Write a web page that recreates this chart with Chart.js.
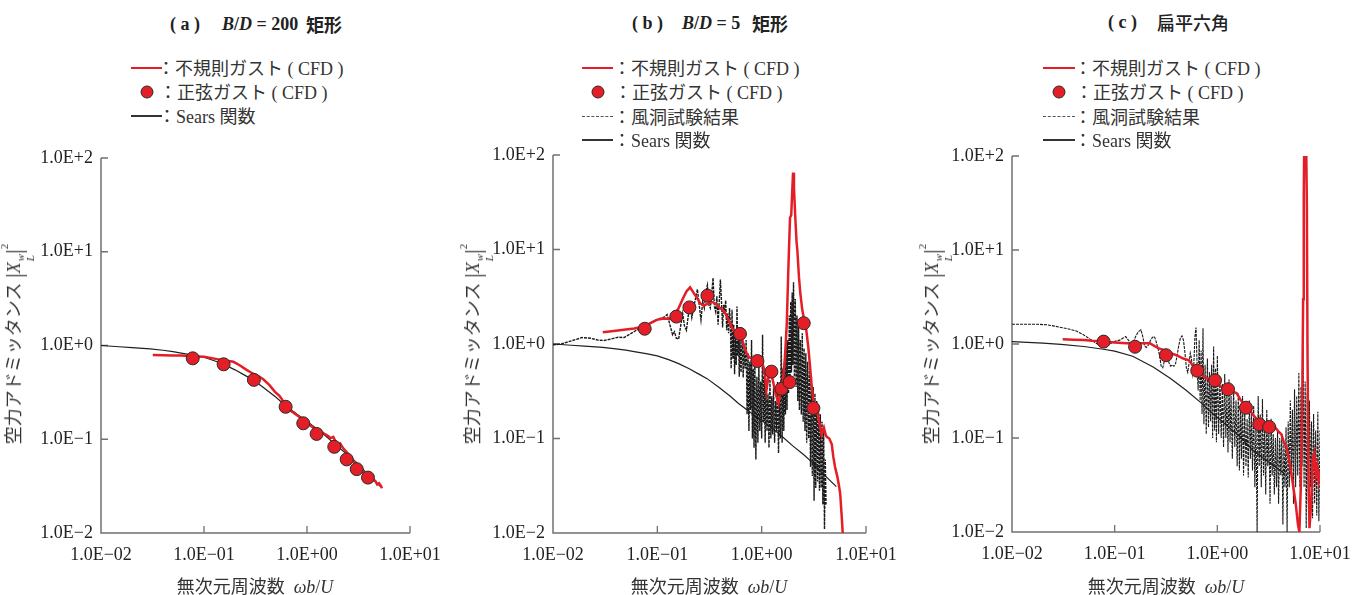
<!DOCTYPE html>
<html><head><meta charset="utf-8">
<script src="https://cdn.jsdelivr.net/npm/chart.js@4.4.1/dist/chart.umd.min.js"></script>
<style>
html,body{margin:0;padding:0;background:#fff;}
#stage{position:relative;width:1360px;height:595px;overflow:hidden;font-family:'Liberation Serif','Times New Roman','Noto Sans CJK JP',serif;color:#333;}
canvas{position:absolute;top:130px;}
.t{position:absolute;white-space:nowrap;transform:translateY(-50%);line-height:1;z-index:2;}
.jp{font-family:'Noto Sans CJK JP',sans-serif;}
.ttl{font-weight:bold;font-size:18px;color:#222;}
.leg{font-size:18px;color:#333;}
.ln{position:absolute;z-index:2;}
.dot{position:absolute;width:11px;height:11px;border-radius:50%;background:#e41e26;border:1px solid #2b2b2b;transform:translate(-50%,-50%);z-index:2;}
.xt{position:absolute;transform:translate(-50%,-50%);font-size:18px;white-space:nowrap;line-height:1;color:#333;z-index:2;}
.yt{position:absolute;transform:translate(-50%,-50%) rotate(-90deg);font-size:18px;white-space:nowrap;line-height:1;color:#333;z-index:2;}
.bar{font-size:24px;font-weight:300;vertical-align:-2px;}
.ss{display:inline-flex;flex-direction:column;font-size:11px;line-height:10px;vertical-align:-4px;margin-left:1px;}
.sup2{font-size:11px;vertical-align:12px;}
</style></head>
<body>
<div id="stage">
  <canvas id="ca" width="450" height="465" style="left:0px"></canvas>
  <canvas id="cb" width="450" height="465" style="left:455px"></canvas>
  <canvas id="cc" width="450" height="465" style="left:910px"></canvas>

  <!-- titles -->
  <span class="t ttl" style="left:170px;top:24px">( a )</span>
  <span class="t ttl" style="left:222px;top:24px"><i>B</i>/<i>D</i> = 200</span>
  <span class="t ttl jp" style="left:306px;top:24px">矩形</span>

  <span class="t ttl" style="left:632px;top:23px">( b )</span>
  <span class="t ttl" style="left:682px;top:23px"><i>B</i>/<i>D</i> = 5</span>
  <span class="t ttl jp" style="left:752px;top:23px">矩形</span>

  <span class="t ttl" style="left:1108px;top:22px">( c )</span>
  <span class="t ttl jp" style="left:1157px;top:22px;font-weight:500">扁平六角</span>

  <!-- legend a -->
  <div class="ln" style="left:131px;top:67px;width:31px;height:2px;background:#e41e26"></div>
  <span class="t leg" style="left:157px;top:68px"><span class="jp">：不規則ガスト</span> ( CFD )</span>
  <div class="dot" style="left:147px;top:92px"></div>
  <span class="t leg" style="left:159px;top:92px"><span class="jp">：正弦ガスト</span> ( CFD )</span>
  <div class="ln" style="left:131px;top:115px;width:31px;height:1.5px;background:#333"></div>
  <span class="t leg" style="left:158px;top:116px"><span class="jp">：</span>Sears <span class="jp">関数</span></span>

  <!-- legend b -->
  <div class="ln" style="left:582px;top:67px;width:31px;height:2px;background:#e41e26"></div>
  <span class="t leg" style="left:613px;top:68px"><span class="jp">：不規則ガスト</span> ( CFD )</span>
  <div class="dot" style="left:598px;top:92px"></div>
  <span class="t leg" style="left:614px;top:92px"><span class="jp">：正弦ガスト</span> ( CFD )</span>
  <div class="ln" style="left:582px;top:116px;width:31px;height:0;border-top:1px dashed #555"></div>
  <span class="t leg" style="left:613px;top:117px"><span class="jp">：風洞試験結果</span></span>
  <div class="ln" style="left:582px;top:139px;width:31px;height:1.5px;background:#333"></div>
  <span class="t leg" style="left:613px;top:140px"><span class="jp">：</span>Sears <span class="jp">関数</span></span>

  <!-- legend c -->
  <div class="ln" style="left:1043px;top:67px;width:32px;height:2px;background:#e41e26"></div>
  <span class="t leg" style="left:1074px;top:68px"><span class="jp">：不規則ガスト</span> ( CFD )</span>
  <div class="dot" style="left:1059px;top:92px"></div>
  <span class="t leg" style="left:1075px;top:92px"><span class="jp">：正弦ガスト</span> ( CFD )</span>
  <div class="ln" style="left:1043px;top:116px;width:32px;height:0;border-top:1px dashed #555"></div>
  <span class="t leg" style="left:1074px;top:117px"><span class="jp">：風洞試験結果</span></span>
  <div class="ln" style="left:1043px;top:139px;width:32px;height:1.5px;background:#333"></div>
  <span class="t leg" style="left:1074px;top:140px"><span class="jp">：</span>Sears <span class="jp">関数</span></span>

  <!-- axis titles -->
  <div class="xt" style="left:255px;top:586px"><span class="jp">無次元周波数</span>&nbsp; <i>ωb</i>/<i>U</i></div>
  <div class="xt" style="left:709px;top:586px"><span class="jp">無次元周波数</span>&nbsp; <i>ωb</i>/<i>U</i></div>
  <div class="xt" style="left:1166px;top:586px"><span class="jp">無次元周波数</span>&nbsp; <i>ωb</i>/<i>U</i></div>

  <div class="yt" style="left:17px;top:344px"><span class="jp">空力アドミッタンス</span>&nbsp;<span class="bar">|</span><i>X</i><span class="ss"><i>w</i><i>L</i></span><span class="bar">|</span><span class="sup2">2</span></div>
  <div class="yt" style="left:476px;top:344px"><span class="jp">空力アドミッタンス</span>&nbsp;<span class="bar">|</span><i>X</i><span class="ss"><i>w</i><i>L</i></span><span class="bar">|</span><span class="sup2">2</span></div>
  <div class="yt" style="left:935px;top:344px"><span class="jp">空力アドミッタンス</span>&nbsp;<span class="bar">|</span><i>X</i><span class="ss"><i>w</i><i>L</i></span><span class="bar">|</span><span class="sup2">2</span></div>
</div>
<script>
// ---------- tick values & labels ----------
const X_TICKS = [0.01, 0.1, 1, 10];
const X_TICK_LABELS = ['1.0E\u221202', '1.0E\u221201', '1.0E+00', '1.0E+01'];
const Y_TICKS = [0.01, 0.1, 1, 10, 100];
const Y_TICK_LABELS = ['1.0E\u22122', '1.0E\u22121', '1.0E+0', '1.0E+1', '1.0E+2'];

// ---------- panel (a) B/D=200 ----------
const A_RED_X = [0.0318,0.040,0.050,0.060,0.078,0.100,0.130,0.160,0.193,0.220,0.259,0.300,0.340,0.376,0.430,0.489,0.540,0.568,0.620,0.700,0.800,0.900,1.00,1.10,1.25,1.40,1.55,1.70,1.80,1.90,2.00,2.10,2.25,2.40,2.55,2.70,2.85,3.00,3.20,3.40,3.60,3.80,4.00,4.20,4.40,4.60,4.80,5.00,5.20,5.35];
const A_RED_Y = [0.79,0.785,0.78,0.78,0.77,0.76,0.72,0.69,0.67,0.62,0.55,0.50,0.47,0.436,0.38,0.32,0.29,0.27,0.225,0.200,0.180,0.165,0.150,0.138,0.125,0.118,0.111,0.103,0.106,0.094,0.087,0.090,0.080,0.074,0.068,0.064,0.058,0.055,0.050,0.046,0.043,0.041,0.039,0.042,0.037,0.036,0.033,0.034,0.032,0.030];
const A_DOT_X = [0.0777,0.155,0.305,0.62,0.92,1.24,1.84,2.43,3.04,3.91];
const A_DOT_Y = [0.73,0.63,0.43,0.222,0.148,0.114,0.083,0.061,0.048,0.039];

// Sears function (panels a, b)
const SEARS_AB_X = [0.01,0.015,0.02,0.03,0.04,0.05,0.06,0.078,0.10,0.13,0.16,0.20,0.25,0.30,0.40,0.50,0.60,0.80,1.00,1.30,1.60,2.00,2.50,3.00,4.00,5.20];
const SEARS_AB_Y = [1.00,0.97,0.95,0.92,0.89,0.86,0.83,0.79,0.75,0.68,0.62,0.55,0.48,0.43,0.34,0.28,0.235,0.185,0.155,0.125,0.103,0.083,0.068,0.057,0.041,0.031];

// ---------- panel (b) B/D=5 ----------
const B_RED_X = [0.030,0.040,0.050,0.060,0.073,0.085,0.099,0.115,0.132,0.145,0.160,0.175,0.190,0.206,0.222,0.239,0.257,0.276,0.300,0.325,0.344,0.370,0.400,0.440,0.480,0.536,0.580,0.620,0.660,0.720,0.760,0.830,0.900,1.00,1.05,1.08,1.11,1.15,1.20,1.24,1.28,1.36,1.45,1.50,1.55,1.60,1.67,1.74,1.80,1.87,1.92,1.96,2.00,2.04,2.10,2.16,2.20,2.28,2.35,2.45,2.53,2.61,2.70,2.80,2.90,3.00,3.13,3.25,3.37,3.55,3.75,3.95,4.10,4.20,4.45,4.70,4.85,5.05,5.30,5.50,5.66,5.85,6.00];
const B_RED_Y = [1.33,1.38,1.42,1.46,1.52,1.65,1.80,1.86,1.85,2.00,2.40,3.00,3.60,3.98,3.50,3.10,2.70,2.55,2.65,2.78,2.76,2.60,2.40,2.20,1.80,1.39,1.32,1.28,1.05,0.79,0.72,0.70,0.68,0.67,0.55,0.45,0.32,0.42,0.50,0.48,0.41,0.30,0.234,0.30,0.34,0.41,0.70,1.63,6.0,21.8,23.0,40.0,65.0,45.0,21.8,12.0,9.7,5.0,3.4,2.3,1.9,1.75,1.3,0.92,0.60,0.38,0.25,0.22,0.20,0.15,0.11,0.13,0.11,0.104,0.100,0.087,0.065,0.050,0.040,0.032,0.026,0.015,0.0095];
const B_DOT_X = [0.0757,0.152,0.203,0.302,0.62,0.91,1.24,1.55,1.85,2.53,3.13];
const B_DOT_Y = [1.45,1.95,2.44,3.25,1.28,0.66,0.51,0.336,0.395,1.66,0.21];
const B_WT_X = [
 0.010,0.012,0.015,0.019,0.023,0.027,0.031,0.036,0.042,0.048,
 0.055,0.063,0.072,0.082,0.092,0.100,0.108,0.116,0.124,0.132,
 0.140,0.146,0.152,0.160,0.168,0.175,0.182,0.190,0.198,0.206,
 0.214,0.222,0.232,0.242,0.252,0.262,0.272,0.282,0.292,0.302,
 0.312,0.322,0.332,0.342,0.352,0.362,0.372,0.382,0.392,0.402,
 0.412,0.422,0.432,0.442,0.452,0.462,0.472,0.482,0.492,0.502,
 0.51,0.52,0.53,0.54,0.55,0.56,0.57,0.58,0.59,0.60,
 0.61,0.62,0.635,0.65,0.665,0.68,0.695,0.71,0.725,0.74,
 0.755,0.77,0.785,0.80,0.815,0.83,0.845,0.86,0.88,0.90,
 0.92,0.94,0.96,0.98,1.00,1.02,1.04,1.06,1.08,1.10,
 1.125,1.15,1.175,1.20,1.225,1.25,1.275,1.30,1.33,1.36,
 1.39,1.42,1.45,1.48,1.51,1.54,1.57,1.60,1.63,1.66,
 1.69,1.72,1.75,1.78,1.81,1.84,1.87,1.90,1.93,1.96,
 1.99,2.02,2.06,2.10,2.14,2.18,2.22,2.26,2.30,2.35,
 2.40,2.45,2.50,2.55,2.60,2.65,2.70,2.76,2.82,2.88,
 2.94,3.00,3.06,3.12,3.18,3.24,3.30,3.37,3.44,3.51,
 3.58,3.65,3.72,3.79,3.86,3.93,4.00,4.07,4.14];
const B_WT_Y = [
 0.98,1.00,1.08,1.17,1.15,1.10,1.09,1.13,1.18,1.17,
 1.28,1.40,1.50,1.62,1.75,1.82,1.88,1.92,2.05,1.60,
 1.25,1.35,1.15,1.13,1.60,2.10,1.55,1.40,2.00,2.50,
 1.90,2.40,3.00,3.80,2.60,1.80,2.80,2.40,3.60,4.20,
 2.60,2.40,3.40,5.00,2.50,2.20,3.20,1.60,2.80,4.80,
 2.80,1.50,2.60,2.20,2.90,1.40,2.10,1.30,2.40,1.60,
 0.55,2.30,0.70,1.60,0.48,1.30,0.60,2.50,0.75,1.20,
 0.45,1.10,0.50,1.30,0.44,0.95,0.55,1.10,0.18,0.80,
 0.12,0.65,0.20,1.10,0.10,0.55,0.08,0.70,0.06,0.45,
 0.09,0.60,0.12,0.40,0.10,1.25,0.15,0.45,0.09,0.38,
 0.12,0.30,0.08,0.42,0.10,0.28,0.11,0.35,0.09,0.25,
 0.12,0.40,0.07,0.30,0.10,1.20,0.09,0.55,0.12,0.80,
 0.18,1.40,0.20,1.10,0.30,2.00,0.40,2.80,0.50,3.50,
 0.60,4.50,0.45,3.00,0.35,2.00,0.25,1.60,0.20,1.10,
 0.18,1.30,0.15,0.90,0.12,0.80,0.09,0.65,0.10,0.55,
 0.05,0.45,0.04,0.35,0.022,0.30,0.03,0.25,0.035,0.22,
 0.028,0.18,0.03,0.15,0.02,0.12,0.011,0.06,0.02];

// ---------- panel (c) flat hexagon ----------
const C_RED_X = [0.0312,0.040,0.050,0.060,0.078,0.100,0.130,0.160,0.200,0.220,0.245,0.270,0.310,0.350,0.400,0.466,0.530,0.570,0.610,0.700,0.800,0.880,1.00,1.10,1.25,1.40,1.54,1.70,1.94,2.20,2.40,2.70,2.96,3.30,3.64,4.00,4.20,4.45,4.70,5.00,5.20,5.50,5.80,6.10,6.30,6.50,6.70,6.85,6.95,7.05,7.30,7.45,7.55,7.70,7.90,8.20,8.50,8.80,9.10,9.40,9.70,10.0];
const C_RED_Y = [1.12,1.11,1.10,1.08,1.06,1.04,1.02,1.02,1.02,1.02,0.95,0.90,0.85,0.80,0.76,0.70,0.67,0.60,0.52,0.47,0.43,0.40,0.37,0.35,0.32,0.31,0.30,0.25,0.215,0.18,0.16,0.15,0.145,0.14,0.13,0.115,0.11,0.09,0.081,0.06,0.045,0.03,0.02,0.012,0.010,0.03,0.20,3.0,40,200,200,30,1.0,0.05,0.011,0.02,0.06,0.07,0.04,0.05,0.035,0.045];
const C_DOT_X = [0.078,0.158,0.316,0.637,0.95,1.27,1.90,2.56,3.20];
const C_DOT_Y = [1.06,0.935,0.76,0.52,0.41,0.33,0.21,0.14,0.131];
const SEARS_C_X = [0.01,0.02,0.03,0.05,0.078,0.10,0.15,0.237,0.35,0.50,0.70,0.91,1.20,1.67,2.20,3.00,4.50];
const SEARS_C_Y = [1.06,1.02,0.99,0.94,0.88,0.84,0.74,0.57,0.43,0.32,0.235,0.18,0.14,0.103,0.075,0.058,0.042];
const C_WT_X = [
 0.010,0.014,0.018,0.022,0.026,0.030,0.035,0.042,0.050,0.058,
 0.066,0.074,0.080,0.088,0.096,0.104,0.112,0.120,0.128,0.136,
 0.144,0.152,0.160,0.170,0.180,0.188,0.196,0.204,0.214,0.224,
 0.234,0.244,0.254,0.264,0.274,0.284,0.294,0.304,0.316,0.328,
 0.340,0.352,0.364,0.378,0.392,0.406,0.420,0.436,0.452,0.468,
 0.484,0.500,0.515,0.530,0.545,0.560,0.575,0.590,0.605,0.620,
 0.635,
 0.65,0.665,0.68,0.695,0.71,0.725,0.74,0.76,0.78,0.80,
 0.82,0.84,0.86,0.88,0.90,0.92,0.94,0.96,0.98,1.00,
 1.03,1.06,1.09,1.12,1.15,1.18,1.21,1.24,1.27,1.30,
 1.33,1.36,1.40,1.44,1.48,1.52,1.56,1.60,1.64,1.68,
 1.72,1.76,1.80,1.85,1.90,1.95,2.00,2.05,2.10,2.15,
 2.20,2.26,2.32,2.38,2.44,2.50,2.56,2.62,2.68,2.75,
 2.82,2.89,2.96,3.03,3.10,3.18,3.26,3.34,3.42,3.50,
 3.59,3.68,3.77,3.86,3.95,4.05,4.15,4.25,4.35,4.45,
 4.56,4.67,4.78,4.90,5.02,5.14,5.26,5.39,5.52,5.65,
 5.79,5.93,6.07,6.22,6.37,6.52,6.68,6.84,7.00,7.17,
 7.34,7.52,7.70,7.88,8.07,8.26,8.46,8.66,8.87,9.08,
 9.30,9.52,9.75,10.0];
const C_WT_Y = [
 1.62,1.62,1.62,1.60,1.55,1.50,1.45,1.38,1.25,1.12,
 1.02,0.95,0.94,0.98,1.05,1.08,1.10,1.15,1.20,1.10,
 1.02,1.05,1.20,1.35,1.42,1.20,0.95,0.92,0.98,1.10,
 1.18,1.20,1.05,0.90,0.75,0.58,0.56,0.65,0.80,0.72,
 0.62,0.58,0.60,0.58,0.62,0.75,0.95,1.15,1.22,1.10,
 0.80,0.55,0.50,0.62,0.80,0.70,0.48,0.60,1.20,1.50,
 0.60,
 0.32,1.10,0.25,0.85,0.18,1.47,0.14,0.60,0.11,0.70,
 0.13,0.50,0.15,0.60,0.10,0.94,0.12,0.55,0.09,0.75,
 0.11,0.45,0.10,0.38,0.08,0.48,0.10,0.30,0.07,0.42,
 0.09,0.28,0.06,0.35,0.08,0.25,0.05,0.30,0.045,0.22,
 0.06,0.28,0.04,0.20,0.05,0.16,0.038,0.25,0.06,0.18,
 0.045,0.22,0.03,0.15,0.01,0.28,0.05,0.18,0.03,0.26,
 0.04,0.14,0.025,0.20,0.05,0.12,0.02,0.16,0.04,0.11,
 0.025,0.10,0.03,0.12,0.02,0.10,0.04,0.11,0.012,0.09,
 0.03,0.13,0.01,0.15,0.03,0.25,0.04,0.20,0.02,0.33,
 0.03,0.28,0.04,0.49,0.03,0.35,0.05,0.94,0.03,0.40,
 0.011,0.30,0.02,0.25,0.03,0.15,0.014,0.18,0.02,0.12,
 0.015,0.19,0.013,0.12];

// ---------- styles ----------
const RED = '#e41e26';
const pts = (xs, ys) => xs.map((x, i) => ({ x: x, y: ys[i] }));

Chart.defaults.font.family = "'Liberation Serif', 'Times New Roman', serif";
Chart.defaults.font.size = 18;

const axesPlugin = {
  id: 'inwardAxes',
  beforeDatasetsDraw(chart) {
    const { ctx, chartArea: a, scales: { x, y } } = chart;
    ctx.save();
    ctx.strokeStyle = '#707070';
    ctx.lineWidth = 1.5;
    ctx.beginPath();
    ctx.moveTo(a.left, a.top);
    ctx.lineTo(a.left, a.bottom);
    ctx.lineTo(a.right, a.bottom);
    ctx.stroke();
    ctx.lineWidth = 1.3;
    ctx.beginPath();
    X_TICKS.slice(1).forEach(v => { const px = x.getPixelForValue(v); ctx.moveTo(px, a.bottom); ctx.lineTo(px, a.bottom - 7); });
    Y_TICKS.slice(1).forEach(v => { const py = y.getPixelForValue(v); ctx.moveTo(a.left, py); ctx.lineTo(a.left + 7, py); });
    ctx.stroke();
    ctx.restore();
  }
};

function makeChart(id, geo, datasets) {
  return new Chart(document.getElementById(id), {
    type: 'scatter',
    data: { datasets: datasets },
    plugins: [axesPlugin],
    options: {
      responsive: false, animation: false, devicePixelRatio: 1,
      layout: { padding: { top: geo.top, right: geo.right, left: 0, bottom: 0 } },
      plugins: { legend: { display: false }, tooltip: { enabled: false } },
      elements: { line: { tension: 0 } },
      scales: {
        x: {
          type: 'logarithmic', min: 0.01, max: 10, position: 'bottom',
          grid: { display: false, drawTicks: false }, border: { display: false },
          afterBuildTicks: s => { s.ticks = X_TICKS.map(v => ({ value: v })); },
          afterFit: s => { s.height = geo.xh; s.paddingLeft = 0; s.paddingRight = 0; },
          ticks: { autoSkip: false, maxRotation: 0, minRotation: 0, padding: 11, color: '#222',
                   font: { size: 18 }, callback: (v, i) => X_TICK_LABELS[i] }
        },
        y: {
          type: 'logarithmic', min: 0.01, max: 100, position: 'left',
          grid: { display: false, drawTicks: false }, border: { display: false },
          afterBuildTicks: s => { s.ticks = Y_TICKS.map(v => ({ value: v })); },
          afterFit: s => { s.width = geo.yw; s.paddingTop = 0; s.paddingBottom = 0; },
          ticks: { autoSkip: false, padding: 8, color: '#222',
                   font: { size: 18 }, callback: (v, i) => Y_TICK_LABELS[i] }
        }
      }
    }
  });
}

const dotDs = (xs, ys) => ({ data: pts(xs, ys), showLine: false, pointRadius: 6.5, pointBorderWidth: 1,
  pointBackgroundColor: RED, pointBorderColor: '#2b2b2b', backgroundColor: RED, borderColor: '#2b2b2b' });
const redDs = (xs, ys) => ({ data: pts(xs, ys), showLine: true, pointRadius: 0, borderColor: RED, borderWidth: 2.5 });
const wtDs = (xs, ys, w) => ({ data: pts(xs, ys), showLine: true, pointRadius: 0, borderColor: '#1a1a1a', borderWidth: w, borderDash: [3, 1] });
const searsDs = (xs, ys) => ({ data: pts(xs, ys), showLine: true, pointRadius: 0, borderColor: '#1f1f1f', borderWidth: 1.2 });

makeChart('ca', { yw: 101, xh: 62, top: 28, right: 40 }, [
  dotDs(A_DOT_X, A_DOT_Y), redDs(A_RED_X, A_RED_Y), searsDs(SEARS_AB_X, SEARS_AB_Y)
]);
makeChart('cb', { yw: 98, xh: 62, top: 25, right: 39 }, [
  dotDs(B_DOT_X, B_DOT_Y), redDs(B_RED_X, B_RED_Y), wtDs(B_WT_X, B_WT_Y, 1.4), searsDs(SEARS_AB_X, SEARS_AB_Y)
]);
makeChart('cc', { yw: 102, xh: 63, top: 26, right: 40 }, [
  dotDs(C_DOT_X, C_DOT_Y), redDs(C_RED_X, C_RED_Y), wtDs(C_WT_X, C_WT_Y, 1.1), searsDs(SEARS_C_X, SEARS_C_Y)
]);
</script>
</body></html>
